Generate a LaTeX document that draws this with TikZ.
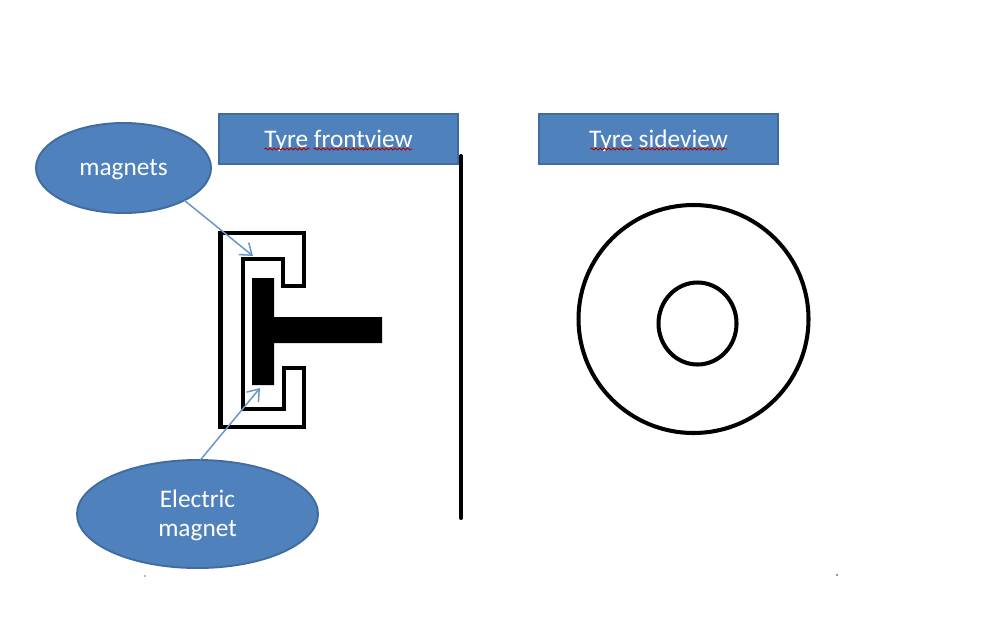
\documentclass[tikz,border=0pt]{standalone}
\usepackage{fontspec}
\setmainfont{Carlito}
\usetikzlibrary{shapes.geometric}
\usetikzlibrary{decorations.pathmorphing}
\usetikzlibrary{arrows.meta}
\definecolor{boxblue}{HTML}{4F81BD}
\definecolor{boxedge}{HTML}{416C9F}
\tikzset{
	viewbox/.style={draw=boxedge, line width=0.55pt, fill=boxblue, text=white, font=\fontsize{7.2}{8.3}\selectfont, minimum width=2.39cm, minimum height=0.5cm, inner sep=0pt, outer sep=0pt, text height=6.1pt, text depth=1.5pt},
	partball/.style={ellipse, draw=boxedge, line width=0.55pt, fill=boxblue, text=white, align=center, font=\fontsize{7.2}{8.3}\selectfont, inner sep=0pt, outer sep=0pt},
	partarrow/.style={draw=boxblue!85!white, line width=0.42pt, -{Straight Barb[length=3pt, width=4.4pt]}},
	spell/.style={draw=red!70!black, line width=0.25pt, decorate, decoration={snake, amplitude=0.28pt, segment length=1.2pt}},
	tyreline/.style={draw=black, line width=1.15pt},
}
\begin{document}
\begin{tikzpicture}
			\useasboundingbox (0, 0) rectangle (10, 6.4);

			\node[viewbox] (front) at (3.385, 5.01){Tyre frontview};
			\node[viewbox] (side) at (6.585, 5.01){Tyre sideview};
			\node[partball, minimum width=1.75cm, minimum height=0.9cm, text height=5.6pt, text depth=1.5pt] (magnets) at (1.235, 4.72){magnets};
			\node[partball, minimum width=2.41cm, minimum height=1.08cm, text height=14.4pt, text depth=1.5pt] (electric) at (1.975, 1.26){Electric\\magnet};

			\draw[spell] ([xshift=-0.74cm, yshift=-0.1cm]front.center)--([xshift=-0.29cm, yshift=-0.1cm]front.center);
			\draw[spell] ([xshift=-0.25cm, yshift=-0.1cm]front.center)--([xshift=0.74cm, yshift=-0.1cm]front.center);
			\draw[spell] ([xshift=-0.68cm, yshift=-0.1cm]side.center)--([xshift=-0.24cm, yshift=-0.1cm]side.center);
			\draw[spell] ([xshift=-0.2cm, yshift=-0.1cm]side.center)--([xshift=0.69cm, yshift=-0.1cm]side.center);

			\draw[tyreline, line cap=round] (4.61, 4.84)--(4.61, 1.22);

			\draw[tyreline, line join=miter] (2.205, 4.07)--(3.04, 4.07)--(3.04, 3.54)--(2.83, 3.54)--(2.83, 3.81)--(2.43, 3.81)--(2.43, 2.31)--(2.84, 2.31)--(2.84, 2.72)--(3.04, 2.72)--(3.04, 2.13)--(2.205, 2.13)--cycle;

			\fill[black] (2.52, 3.62)--(2.74, 3.62)--(2.74, 3.23)--(3.82, 3.23)--(3.82, 2.97)--(2.74, 2.97)--(2.74, 2.55)--(2.52, 2.55)--cycle;

			\coordinate (magnettip) at (2.53, 3.84);
			\coordinate (electrictip) at (2.6, 2.52);
			\draw[partarrow] (magnets.-28.5)--(magnettip);
			\draw[partarrow] (electric.87)--(electrictip);

			\draw[tyreline] (6.935, 3.21) ellipse (1.15 and 1.14);
			\draw[tyreline] (6.975, 3.165) ellipse (0.39 and 0.41);

			\fill[black!55] (1.45, 0.64) circle (0.008);
			\fill[black!55] (8.37, 0.65) circle (0.012);
		\end{tikzpicture}
\end{document}
